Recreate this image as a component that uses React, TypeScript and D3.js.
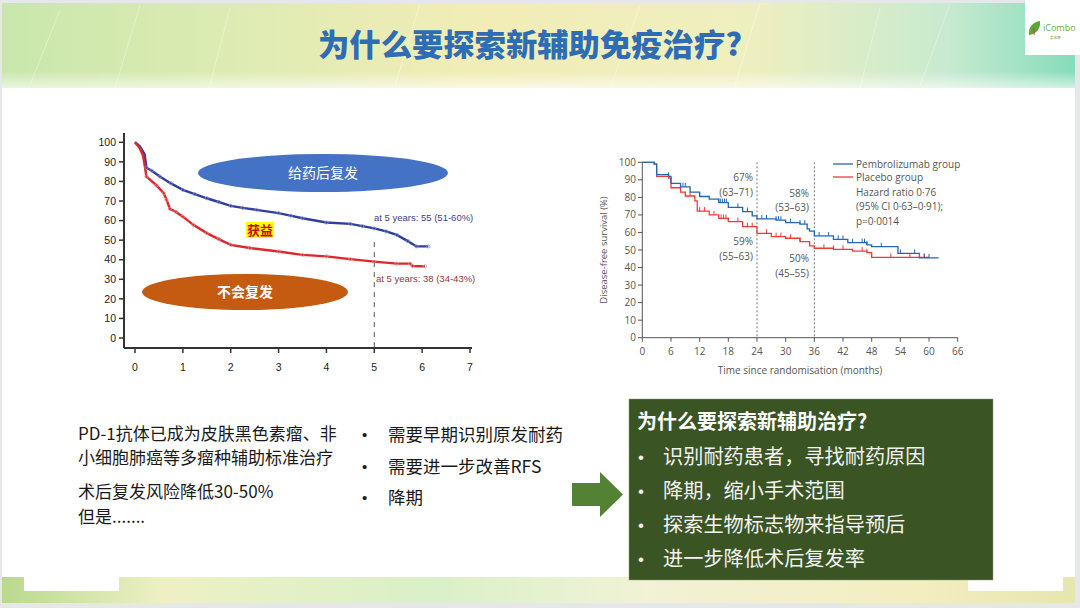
import React from "react";
import * as d3 from "d3";

// ---------- Data ----------
const pageTitle = "为什么要探索新辅助免疫治疗?";

// Left chart (years, %)
const leftXTicks = [0, 1, 2, 3, 4, 5, 6, 7];
const leftYTicks = [0, 10, 20, 30, 40, 50, 60, 70, 80, 90, 100];
const leftTreated: [number, number][] = [
  [0, 100], [0.1, 98], [0.2, 94], [0.24, 87], [0.35, 85.5], [0.52, 82.5], [0.75, 79], [1.0, 75.7],
  [1.25, 73.5], [1.5, 71.4], [1.75, 69.5], [2.0, 67.5], [2.25, 66.5], [2.54, 65.5], [3.0, 63.8],
  [3.25, 62.5], [3.5, 61.2], [4.0, 59], [4.5, 58.3], [4.75, 57.2], [5.0, 56], [5.25, 54.5],
  [5.47, 52.7], [5.7, 49.5], [5.88, 46.8], [6.13, 46.8],
];
const leftControl: [number, number][] = [
  [0, 100], [0.1, 97], [0.17, 93], [0.24, 82.5], [0.45, 78], [0.6, 74], [0.66, 70.6], [0.73, 66],
  [0.85, 64.5], [1.0, 62], [1.22, 57.8], [1.5, 53.6], [1.75, 50.5], [2.0, 47.6], [2.4, 46],
  [3.0, 44.2], [3.5, 42.5], [4.0, 41.7], [4.5, 40.3], [5.0, 39], [5.47, 38], [5.75, 38],
  [5.8, 36.8], [6.06, 36.6],
];
const leftLabelTreated = "at 5 years: 55 (51-60%)";
const leftLabelControl = "at 5 years: 38 (34-43%)";
const leftMarkYear = 5;

// Right chart (months, %)
const rightXTicks = [0, 6, 12, 18, 24, 30, 36, 42, 48, 54, 60, 66];
const rightYTicks = [0, 10, 20, 30, 40, 50, 60, 70, 80, 90, 100];
const pembro: [number, number][] = [
  [0, 100], [2.5, 99], [3, 93], [5.5, 92], [6, 88], [8, 86], [10, 83], [12, 80.5], [14, 79],
  [16, 77], [18, 74.3], [21, 71.9], [23, 69.5], [24, 67.7], [28, 67], [30, 65.6], [33, 64.8],
  [34.5, 62], [35, 60.8], [36, 58], [40, 56.1], [43, 54.2], [47, 52.9], [48, 51.9],
  [53.5, 48.1], [58, 45.5], [62, 45.5],
];
const placebo: [number, number][] = [
  [0, 100], [2.5, 99], [3, 92], [5.5, 91], [6, 85.5], [8, 83], [9, 80.8], [11, 78],
  [11.5, 72.2], [14, 70], [16, 68], [18, 66.2], [21, 63.3], [24, 59.5], [27, 57.6],
  [30, 56.7], [33, 54.8], [35, 52.3], [36, 51], [40, 50.4], [44, 49.4], [47, 48.5],
  [48, 45.8], [60, 45.8],
];
const pembroCensor = [5.5, 8.5, 9, 12, 16, 16.4, 16.8, 17.2, 17.6, 20, 22, 25, 26, 28, 28.5, 29, 31,
  33, 34, 37, 39, 41, 42, 44, 46, 46.5, 47, 50, 54, 57, 59, 60];
const placeboCensor = [5.5, 8, 10, 12, 13, 15, 16.5, 17, 17.5, 18, 20, 22, 23, 26, 28, 29, 31, 33,
  35, 38, 40, 42, 46, 47, 52, 56, 58, 59];
const rightMarks = [24, 36];
const legendItems = ["Pembrolizumab group", "Placebo group"];
const hazardLines = ["Hazard ratio 0·76", "(95% CI 0·63–0·91);", "p=0·0014"];

// Text blocks
const leftParas = [
  ["PD-1抗体已成为皮肤黑色素瘤、非", "小细胞肺癌等多瘤种辅助标准治疗"],
  ["术后复发风险降低30-50%", "但是......."],
];
const midBullets = ["需要早期识别原发耐药", "需要进一步改善RFS", "降期"];
const boxTitle = "为什么要探索新辅助治疗?";
const boxBullets = ["识别耐药患者，寻找耐药原因", "降期，缩小手术范围", "探索生物标志物来指导预后", "进一步降低术后复发率"];

const CJK = "'Noto Sans CJK SC', 'Noto Sans', sans-serif";
const NARROW = "'Liberation Sans Narrow', 'Liberation Sans', Arial, sans-serif";
const SANS = "'Open Sans', 'Noto Sans', sans-serif";
const BULLET = "'Liberation Sans', Arial, sans-serif";

function stepValue(data: [number, number][], t: number) {
  let v = data[0][1];
  for (const [x, y] of data) {
    if (x <= t) v = y;
    else break;
  }
  return v;
}

function LeftChart() {
  const x = d3.scaleLinear().domain([0, 7]).range([135, 470]);
  const y = d3.scaleLinear().domain([0, 100]).range([338, 142.3]);
  const line = d3.line<[number, number]>().x((d) => x(d[0])).y((d) => y(d[1])).curve(d3.curveLinear);
  return (
    <g>
      <rect x={95} y={128} width={395} height={254} fill="#ffffff" />
      <line x1={124} x2={124} y1={133} y2={348} stroke="#333" strokeWidth={2} />
      <line x1={124} x2={472} y1={348} y2={348} stroke="#333" strokeWidth={2} />
      {leftYTicks.map((t) => (
        <g key={"ly" + t}>
          <line x1={119} x2={124} y1={y(t)} y2={y(t)} stroke="#333" strokeWidth={1.5} />
          <text x={116} y={y(t)} dy="0.35em" textAnchor="end" fontSize={10.5} fontFamily={NARROW} fill="#222">{t}</text>
        </g>
      ))}
      {leftXTicks.map((t) => (
        <g key={"lx" + t}>
          <line x1={x(t)} x2={x(t)} y1={348} y2={353} stroke="#333" strokeWidth={1.5} />
          <text x={x(t)} y={367} dy="0.35em" textAnchor="middle" fontSize={10.5} fontFamily={NARROW} fill="#222">{t}</text>
        </g>
      ))}
      <line x1={x(leftMarkYear)} x2={x(leftMarkYear)} y1={y(49)} y2={348} stroke="#555" strokeWidth={1} strokeDasharray="5,5" />
      <path d={line(leftTreated) || ""} fill="none" stroke="#2f3f9e" strokeWidth={2.4} />
      <path d={line(leftControl) || ""} fill="none" stroke="#e0262a" strokeWidth={2.4} />
      {leftTreated.slice(3).map((d, i) => (
        <circle key={"tc" + i} cx={x(d[0])} cy={y(d[1])} r={1.6} fill="none" stroke="#8a90c8" strokeWidth={0.8} />
      ))}
      {leftControl.slice(3).map((d, i) => (
        <circle key={"cc" + i} cx={x(d[0])} cy={y(d[1])} r={1.6} fill="none" stroke="#d89090" strokeWidth={0.8} />
      ))}
      <text x={374} y={218} dy="0.35em" fontSize={9.5} fontFamily={NARROW} fill="#3b3f8a">{leftLabelTreated}</text>
      <text x={376} y={279} dy="0.35em" fontSize={9.5} fontFamily={NARROW} fill="#8a3a3a">{leftLabelControl}</text>
      <ellipse cx={323} cy={173} rx={125} ry={19} fill="#4472c4" />
      <text x={323} y={173} dy="0.35em" textAnchor="middle" fontSize={14} fontFamily={CJK} fill="#ffffff">给药后复发</text>
      <ellipse cx={245} cy={292} rx={103} ry={18} fill="#c55a11" />
      <text x={245} y={292} dy="0.35em" textAnchor="middle" fontSize={14} fontWeight={700} fontFamily={CJK} fill="#ffffff">不会复发</text>
      <rect x={246} y={222} width={28} height={16} fill="#ffff00" />
      <text x={260} y={230} dy="0.35em" textAnchor="middle" fontSize={13} fontWeight={700} fontFamily={CJK} fill="#d00000">获益</text>
    </g>
  );
}

function RightChart() {
  const x = d3.scaleLinear().domain([0, 66]).range([642.3, 957.7]);
  const y = d3.scaleLinear().domain([0, 100]).range([337.7, 162.3]);
  const line = d3.line<[number, number]>().x((d) => x(d[0])).y((d) => y(d[1])).curve(d3.curveStepAfter);
  const axisColor = "#555";
  const fs = 10;
  return (
    <g fontFamily={SANS}>
      <line x1={642.3} x2={642.3} y1={y(100)} y2={y(0)} stroke={axisColor} strokeWidth={1} />
      <line x1={642.3} x2={x(66)} y1={y(0)} y2={y(0)} stroke={axisColor} strokeWidth={1} />
      {rightYTicks.map((t) => (
        <g key={"ry" + t}>
          <line x1={638} x2={642.3} y1={y(t)} y2={y(t)} stroke={axisColor} />
          <text x={636} y={y(t)} dy="0.35em" textAnchor="end" fontSize={fs} fill="#555">{t}</text>
        </g>
      ))}
      {rightXTicks.map((t) => (
        <g key={"rx" + t}>
          <line x1={x(t)} x2={x(t)} y1={y(0)} y2={y(0) + 4} stroke={axisColor} />
          <text x={x(t)} y={351} dy="0.35em" textAnchor="middle" fontSize={fs} fill="#555">{t}</text>
        </g>
      ))}
      <text x={800} y={370} dy="0.35em" textAnchor="middle" fontSize={fs} fill="#555">Time since randomisation (months)</text>
      <text transform="translate(604,250) rotate(-90)" dy="0.35em" textAnchor="middle" fontSize={9.5} fill="#555">Disease-free survival (%)</text>
      {rightMarks.map((m) => (
        <line key={"m" + m} x1={x(m)} x2={x(m)} y1={y(100)} y2={y(0)} stroke="#777" strokeWidth={1} strokeDasharray="2,2" />
      ))}
      <path d={line(placebo) || ""} fill="none" stroke="#ef3b36" strokeWidth={1.3} />
      <path d={line(pembro) || ""} fill="none" stroke="#2467b0" strokeWidth={1.3} />
      {placeboCensor.map((t, i) => (
        <line key={"pc" + i} x1={x(t)} x2={x(t)} y1={y(stepValue(placebo, t)) - 4} y2={y(stepValue(placebo, t))} stroke="#ef3b36" strokeWidth={1} />
      ))}
      {pembroCensor.map((t, i) => (
        <line key={"bc" + i} x1={x(t)} x2={x(t)} y1={y(stepValue(pembro, t)) - 4} y2={y(stepValue(pembro, t))} stroke="#2467b0" strokeWidth={1} />
      ))}
      <g fontSize={fs} fill="#555" textAnchor="end">
        <text x={753} y={177} dy="0.35em">67%</text>
        <text x={753} y={192} dy="0.35em">(63–71)</text>
        <text x={809} y={193} dy="0.35em">58%</text>
        <text x={809} y={207} dy="0.35em">(53–63)</text>
        <text x={753} y={241} dy="0.35em">59%</text>
        <text x={753} y={256} dy="0.35em">(55–63)</text>
        <text x={809} y={258} dy="0.35em">50%</text>
        <text x={809} y={273} dy="0.35em">(45–55)</text>
      </g>
      <line x1={833} x2={853} y1={164} y2={164} stroke="#2467b0" strokeWidth={1.3} />
      <line x1={833} x2={853} y1={177} y2={177} stroke="#ef3b36" strokeWidth={1.3} />
      <g fontSize={fs} fill="#555">
        <text x={856} y={164} dy="0.35em">{legendItems[0]}</text>
        <text x={856} y={177} dy="0.35em">{legendItems[1]}</text>
        {hazardLines.map((h, i) => (
          <text key={h} x={856} y={192 + i * 14.5} dy="0.35em">{h}</text>
        ))}
      </g>
    </g>
  );
}

function Header() {
  const streaks = [
    [60, 10, 30, 85], [140, 5, 115, 88], [230, 8, 210, 85], [420, 4, 395, 86], [640, 6, 610, 88],
    [760, 3, 735, 85], [880, 8, 860, 88], [950, 4, 920, 86],
  ];
  return (
    <g>
      <defs>
        <linearGradient id="hdr" x1="0" x2="1" y1="0" y2="0">
          <stop offset="0" stopColor="#c9e7ab" />
          <stop offset="0.2" stopColor="#dcebb2" />
          <stop offset="0.45" stopColor="#f2edb6" />
          <stop offset="0.7" stopColor="#eeefc0" />
          <stop offset="0.88" stopColor="#c8ead0" />
          <stop offset="1" stopColor="#86dcbb" />
        </linearGradient>
        <linearGradient id="hdrFade" x1="0" x2="0" y1="0" y2="1">
          <stop offset="0" stopColor="#ffffff" stopOpacity={0} />
          <stop offset="0.8" stopColor="#ffffff" stopOpacity={0} />
          <stop offset="1" stopColor="#ffffff" stopOpacity={0.6} />
        </linearGradient>
        <linearGradient id="ftr" x1="0" x2="1" y1="0" y2="0">
          <stop offset="0" stopColor="#b9d98e" />
          <stop offset="0.15" stopColor="#eef0c4" />
          <stop offset="0.4" stopColor="#d9f0c8" />
          <stop offset="0.6" stopColor="#f1f2d6" />
          <stop offset="0.85" stopColor="#f3eec0" />
          <stop offset="1" stopColor="#e6e6b0" />
        </linearGradient>
      </defs>
      <rect x={0} y={0} width={1080} height={608} fill="#e6e7e9" />
      <rect x={2} y={3} width={1073} height={600} fill="#ffffff" />
      <rect x={2} y={3} width={1073} height={85} fill="url(#hdr)" />
      <rect x={2} y={3} width={1073} height={85} fill="url(#hdrFade)" />
      {streaks.map((s, i) => (
        <line key={"s" + i} x1={s[0]} y1={s[1]} x2={s[2]} y2={s[3]} stroke="#ffffff" strokeOpacity={0.35} strokeWidth={1} />
      ))}
      <text x={530} y={45} dy="0.36em" textAnchor="middle" fontSize={31} fontWeight={900} fontFamily={CJK} fill="#2e6db5" textLength={424} lengthAdjust="spacingAndGlyphs">{pageTitle}</text>
      <rect x={2} y={577} width={1073} height={26} fill="url(#ftr)" />
      <rect x={24} y={577} width={95} height={14} fill="#ffffff" />
      <rect x={968} y={577} width={95} height={14} fill="#ffffff" />
      <rect x={1025} y={0} width={55} height={55} fill="#ffffff" />
      <path d="M1029,35 C1028,27 1033,22 1040,21 C1041,29 1036,34 1029,35 Z" fill="#5aa83a" />
      <path d="M1034,35 L1034,28" stroke="#e33" strokeWidth={1} />
      <text x={1043} y={31} fontSize={9} fontFamily={SANS} fill="#6aaa3a">iCombo</text>
      <text x={1050} y={39} fontSize={3.5} fontFamily={CJK} fill="#6aaa3a">爱康博</text>
    </g>
  );
}

function TextBlocks() {
  const paraLines = [434, 458, 492, 517];
  return (
    <g fontFamily={CJK}>
      {leftParas.flat().map((ln, i) => (
        <text key={"p" + i} x={78} y={paraLines[i]} dy="0.35em" fontSize={17} fill="#1a1a1a">{ln}</text>
      ))}
      {midBullets.map((b, i) => (
        <g key={b}>
          <text x={362} y={435 + i * 31.5} dy="0.35em" fontSize={15} fontFamily={BULLET} fill="#1a1a1a">•</text>
          <text x={388} y={435 + i * 31.5} dy="0.35em" fontSize={17.5} fill="#1a1a1a">{b}</text>
        </g>
      ))}
      <path d="M572,483 L600,483 L600,472 L623,494.5 L600,517 L600,506 L572,506 Z" fill="#548235" />
      <rect x={629} y={399} width={364} height={181} fill="#3a5424" stroke="#8a9a7a" strokeWidth={0.5} />
      <text x={637} y={422} dy="0.36em" fontSize={20} fontWeight={700} fill="#ffffff">{boxTitle}</text>
      {boxBullets.map((b, i) => (
        <g key={b}>
          <text x={638} y={457 + i * 34} dy="0.35em" fontSize={17} fontFamily={BULLET} fill="#f2f2f2">•</text>
          <text x={663} y={457 + i * 34} dy="0.36em" fontSize={20.2} fill="#f2f2f2">{b}</text>
        </g>
      ))}
    </g>
  );
}

export default function App() {
  return (
    <svg
      width={1080}
      height={608}
      viewBox="0 0 1080 608"
      style={{ position: "fixed", left: 0, top: 0, display: "block" }}
    >
      <Header />
      <LeftChart />
      <RightChart />
      <TextBlocks />
    </svg>
  );
}
